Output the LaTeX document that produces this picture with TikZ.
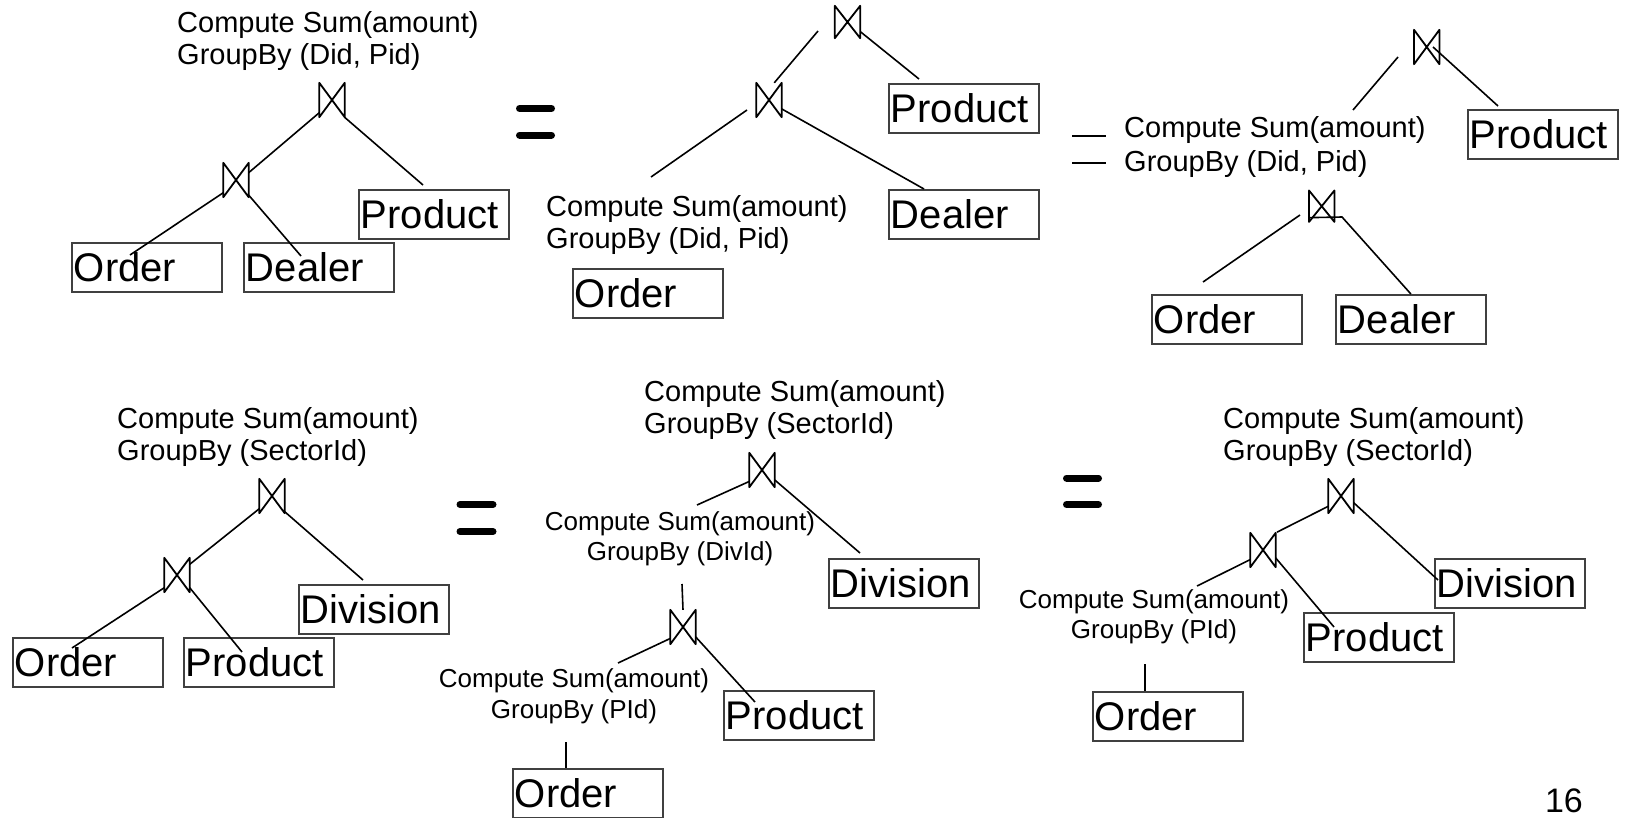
\documentclass[tikz,border=0pt]{standalone}
\usepackage{fontspec}
\setmainfont{Liberation Sans}
\begin{document}
\begin{tikzpicture}[x=1pt,y=-1pt,
  tbl/.style={draw=black!75, line width=1.8pt, anchor=north west,
    minimum height=49pt, text width=146pt, inner xsep=2pt, inner ysep=0pt,
    align=left, font=\fontsize{40}{44}\selectfont, text height=29pt, text depth=1pt},
  lbl/.style={font=\fontsize{29}{32}\selectfont, align=left, anchor=base west, inner sep=0pt},
  lblc/.style={font=\fontsize{26}{30}\selectfont, align=center, anchor=base, inner sep=0pt},
  tie/.style={minimum width=25pt, minimum height=34pt, inner sep=0pt},
  tieline/.style={line width=1.8pt, line join=round},
  conn/.style={line width=1.6pt},
  eqbar/.style={line width=7pt, line cap=round},
  thinbar/.style={line width=2pt}]
\newcommand\drawtie[1]{\draw[tieline] (#1.north west) -- (#1.south east) -- (#1.north east) -- (#1.south west) -- cycle;}
\useasboundingbox (0,0) rectangle (1625,817);
% label nodes are placed by the baseline of their last line

% ---------- tree A: aggregate on top of both joins ----------
\node[lbl] (lblA) at (177,64) {Compute Sum(amount)\\GroupBy (Did, Pid)};
\node[tie] (jA1) at (332,100) {};
\node[tie] (jA2) at (236,180) {};
\node[tbl] (Aord) at (71,242) {Order};
\node[tbl] (Adea) at (243,242) {Dealer};
\node[tbl] (Apro) at (358,189) {Product};
\drawtie{jA1} \drawtie{jA2}
\coordinate (cApro) at (423,185);
\coordinate (cAord) at (130,255);
\coordinate (cAdea) at (301,256);
\draw[conn] (jA1.225) -- (jA2.30);
\draw[conn] (jA1.306) -- (cApro);
\draw[conn] (jA2.225) -- (cAord);
\draw[conn] (jA2.310) -- (cAdea);

\draw[eqbar] (519.5,108.5) -- (551.5,108.5);
\draw[eqbar] (519.5,135) -- (551.5,135);

% ---------- tree B: aggregate pushed onto Order ----------
\node[tie, minimum height=32pt] (jB1) at (847.5,22) {};
\node[tie] (jB2) at (769,100) {};
\node[tbl] (Bpro) at (888,83) {Product};
\node[tbl] (Bdea) at (888,189) {Dealer};
\node[lbl] (lblB) at (546,248) {Compute Sum(amount)\\GroupBy (Did, Pid)};
\node[tbl] (Bord) at (572,268) {Order};
\drawtie{jB1} \drawtie{jB2}
\coordinate (cBa) at (818,31);
\coordinate (cBpro) at (919,79);
\coordinate (cBb) at (747,110);
\coordinate (cBc) at (651,177);
\coordinate (cBdea) at (924,189);
\draw[conn] (cBa) -- (jB2.73);
\draw[conn] (jB1.323) -- (cBpro);
\draw[conn] (cBb) -- (cBc);
\draw[conn] (jB2.325) -- (cBdea);

\draw[thinbar] (1072,136) -- (1106,136);
\draw[thinbar] (1072,163) -- (1106,163);

% ---------- tree C: aggregate between the joins ----------
\node[tie] (jC1) at (1426.7,47) {};
\node[tbl] (Cpro) at (1467,109) {Product};
\node[lbl, font=\fontsize{29}{34}\selectfont] (lblC) at (1124,171) {Compute Sum(amount)\\GroupBy (Did, Pid)};
\node[tie, minimum height=31pt] (jC2) at (1321.7,206.2) {};
\node[tbl] (Cord) at (1151,294) {Order};
\node[tbl] (Cdea) at (1335,294) {Dealer};
\drawtie{jC1} \drawtie{jC2}
\coordinate (cCa) at (1398,57);
\coordinate (cCb) at (1353,110);
\coordinate (cCc) at (1433,47);
\coordinate (cCpro) at (1498,106);
\coordinate (cCd) at (1300,215);
\coordinate (cCord) at (1203,282);
\coordinate (cCkink) at (1342,217);
\draw[conn] (cCa) -- (cCb);
\draw[conn] (cCc) -- (cCpro);
\draw[conn] (cCd) -- (cCord);
\draw[conn] (jC2.222) -- (cCkink) -- (Cdea.north);

% ---------- tree D: aggregate by sector on top ----------
\node[lbl] (lblD) at (117,460) {Compute Sum(amount)\\GroupBy (SectorId)};
\node[tie] (jD1) at (272,496) {};
\node[tie] (jD2) at (177,575) {};
\node[tbl] (Ddiv) at (298,584) {Division};
\node[tbl] (Dord) at (12,637) {Order};
\node[tbl] (Dpro) at (183,637) {Product};
\drawtie{jD1} \drawtie{jD2}
\coordinate (cDdiv) at (363,580);
\coordinate (cDord) at (72,648);
\coordinate (cDpro) at (242,652);
\draw[conn] (jD1.225) -- (jD2.40);
\draw[conn] (jD1.309) -- (cDdiv);
\draw[conn] (jD2.225) -- (cDord);
\draw[conn] (jD2.315) -- (cDpro);

\draw[eqbar] (460,504.5) -- (493,504.5);
\draw[eqbar] (460,531.5) -- (493,531.5);

% ---------- tree E: aggregates at every level ----------
\node[lbl] (lblE1) at (644,433) {Compute Sum(amount)\\GroupBy (SectorId)};
\node[tie] (jE1) at (762,470) {};
\node[tbl] (Ediv) at (828,558) {Division};
\node[lblc] (lblE2) at (680,560) {Compute Sum(amount)\\GroupBy (DivId)};
\node[tie] (jE2) at (683,627) {};
\node[tbl] (Epro) at (723,690) {Product};
\node[lblc, font=\fontsize{26}{31}\selectfont] (lblE3) at (574,718) {Compute Sum(amount)\\GroupBy (PId)};
\node[tbl] (Eord) at (512,768) {Order};
\drawtie{jE1} \drawtie{jE2}
\coordinate (cEl1) at (697,505);
\coordinate (cEdiv) at (860,553);
\coordinate (cEv1) at (682,584);
\coordinate (cEl2) at (618,663);
\coordinate (cEpro) at (755,702);
\coordinate (cEv2) at (566,742);
\coordinate (cEv3) at (566,768);
\draw[conn] (jE1.222) -- (cEl1);
\draw[conn] (jE1.322) -- (cEdiv);
\draw[conn] (cEv1) -- (jE2.north);
\draw[conn] (jE2.222) -- (cEl2);
\draw[conn] (jE2.322) -- (cEpro);
\draw[conn] (cEv2) -- (cEv3);

\draw[eqbar] (1066.5,478) -- (1098.5,478);
\draw[eqbar] (1066.5,504.5) -- (1098.5,504.5);

% ---------- tree F: aggregate below the lower join ----------
\node[lbl] (lblF1) at (1223,460) {Compute Sum(amount)\\GroupBy (SectorId)};
\node[tie] (jF1) at (1341,496) {};
\node[tie] (jF2) at (1263,550) {};
\node[tbl] (Fdiv) at (1434,558) {Division};
\node[tbl] (Fpro) at (1303,612) {Product};
\node[lblc] (lblF2) at (1154,638) {Compute Sum(amount)\\GroupBy (PId)};
\node[tbl] (Ford) at (1092,691) {Order};
\drawtie{jF1} \drawtie{jF2}
\coordinate (cFdiv) at (1438,580);
\coordinate (cFl) at (1197,586);
\coordinate (cFpro) at (1334,627);
\coordinate (cFv1) at (1145,664);
\coordinate (cFv2) at (1145,691);
\draw[conn, shorten >=1.5pt] (jF1.219) -- (jF2.north east);
\draw[conn] (jF1.332) -- (cFdiv);
\draw[conn] (jF2.217) -- (cFl);
\draw[conn] (jF2.328) -- (cFpro);
\draw[conn] (cFv1) -- (cFv2);

% page number
\node[anchor=base east, inner sep=0pt, font=\fontsize{34}{36}\selectfont] (pgno) at (1583,812) {16};
\end{tikzpicture}
\end{document}
